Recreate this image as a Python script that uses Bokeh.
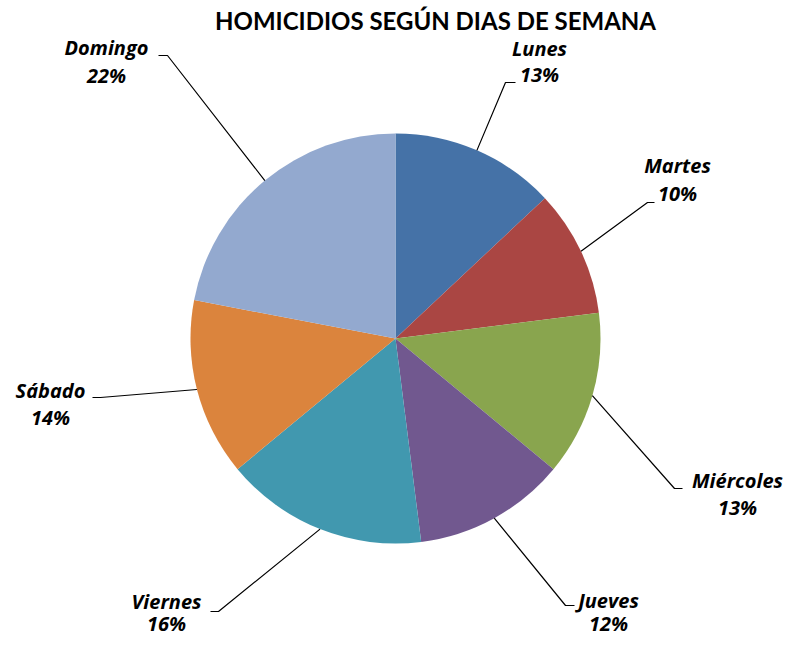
import math
from bokeh.plotting import figure
from bokeh.models import Range1d, ColumnDataSource
from bokeh.core.properties import value
from bokeh.embed import file_html
from bokeh.resources import INLINE

# ---- data ----
days = ["Lunes", "Martes", "Miércoles", "Jueves", "Viernes", "Sábado", "Domingo"]
pcts = [13, 10, 13, 12, 16, 14, 22]
colors = ["#4572A7", "#AA4643", "#89A54E", "#71588F", "#4198AF", "#DB843D", "#93A9CF"]
title_text = "HOMICIDIOS SEGÚN DIAS DE SEMANA"

# ---- layout (picture pixel coords) ----
W, H = 789, 638
TEXT_SHIFT = 8  # svg alphabetic baseline renders lower; compensate
def px(X):
    return X
def py(Y):
    return H - Y
def ty(Y):
    return H - Y + TEXT_SHIFT

CX, CY, R = 395, 338, 205
# label centre x, name baseline y, percent baseline y
label_pos = {
    "Lunes": (539, 56, 82),
    "Martes": (677, 173, 201),
    "Miércoles": (737, 488, 515),
    "Jueves": (608, 608, 631),
    "Viernes": (166, 609, 631),
    "Sábado": (50, 398, 425),
    "Domingo": (106, 55, 83),
}
# elbow and end of leader lines
leader = {
    "Lunes": ((505, 82), (515, 82)),
    "Martes": ((647, 202), (654, 202)),
    "Miércoles": ((674, 488), (682, 488)),
    "Jueves": ((565, 605), (574, 605)),
    "Viernes": ((218, 611), (210, 611)),
    "Sábado": ((100, 397), (92, 397)),
    "Domingo": ((167, 55), (158, 55)),
}

p = figure(width=W, height=H, output_backend="svg", toolbar_location=None,
           x_range=Range1d(0, W), y_range=Range1d(0, H), min_border=0)
p.axis.visible = False
p.grid.visible = False
p.outline_line_color = None
p.background_fill_color = "white"
p.border_fill_color = "white"

total = sum(pcts)
starts, ends, mids = [], [], []
cum = 0
for v in pcts:
    a0 = math.pi / 2 - 2 * math.pi * cum / total
    cum += v
    a1 = math.pi / 2 - 2 * math.pi * cum / total
    starts.append(a1)
    ends.append(a0)
    mids.append((a0 + a1) / 2)

src = ColumnDataSource(dict(x=[px(CX)] * len(days), y=[py(CY)] * len(days),
                            start=starts, end=ends, color=colors))
p.wedge(x="x", y="y", radius=R, start_angle="start", end_angle="end",
        fill_color="color", line_color=None, source=src)

xs, ys = [], []
for d, m in zip(days, mids):
    ex = px(CX) + R * math.cos(m)
    ey = py(CY) + R * math.sin(m)
    (bx, by), (fx, fy) = leader[d]
    xs.append([ex, px(bx), px(fx)])
    ys.append([ey, py(by), py(fy)])
p.multi_line(xs=xs, ys=ys, line_color="black", line_width=1.2)

names_x = [px(label_pos[d][0]) for d in days]
p.text(x=names_x, y=[ty(label_pos[d][1]) for d in days], text=days,
       text_align="center", text_baseline="alphabetic",
       text_font=value("Open Sans"), text_font_style="bold italic",
       text_font_size="20px", text_color="black")
p.text(x=names_x, y=[ty(label_pos[d][2]) for d in days],
       text=[f"{v}%" for v in pcts],
       text_align="center", text_baseline="alphabetic",
       text_font=value("Open Sans"), text_font_style="bold italic",
       text_font_size="20px", text_color="black")

p.text(x=[px(435)], y=[ty(28)], text=[title_text], text_align="center",
       text_baseline="alphabetic", text_font=value("Lato"),
       text_font_style="bold", text_font_size="24px", text_color="black")

open("out.html", "w").write(file_html(p, INLINE))
